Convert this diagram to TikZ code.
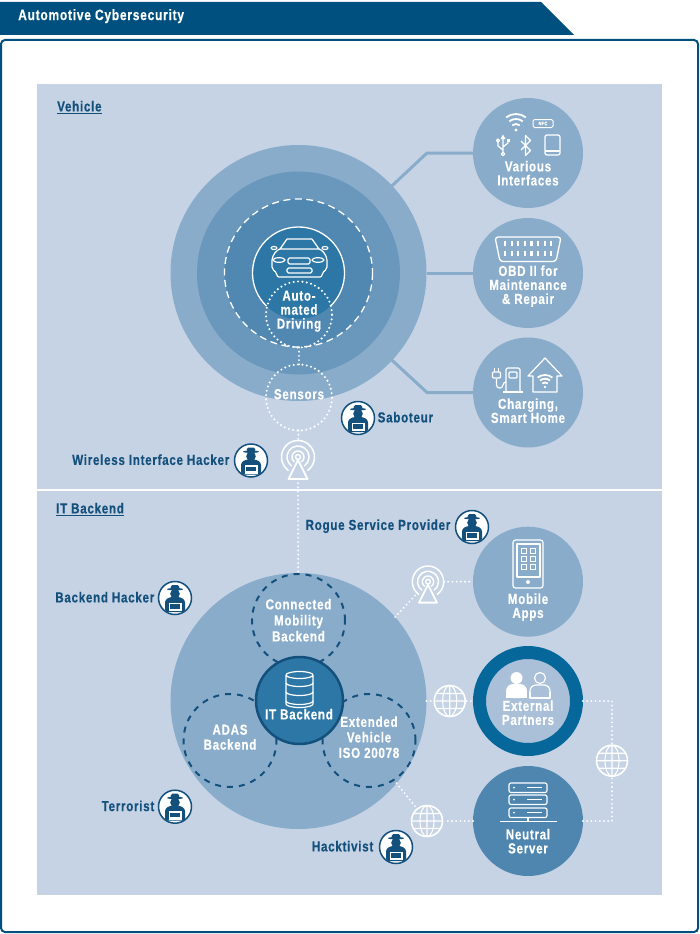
\documentclass[tikz,border=0pt]{standalone}
\usepackage{fontspec}
\usetikzlibrary{positioning}
\setmainfont{Liberation Sans}[FakeStretch=0.8,LetterSpace=5,BoldFeatures={FakeBold=0.35}]
\definecolor{barblue}{HTML}{00507F}
\definecolor{panelblue}{HTML}{C5D3E5}
\definecolor{ringone}{HTML}{8AACCB}
\definecolor{ringtwo}{HTML}{6A97BC}
\definecolor{ringthree}{HTML}{5088B2}
\definecolor{corecolor}{HTML}{2C77A6}
\definecolor{hackblue}{HTML}{14507C}
\definecolor{partnerring}{HTML}{06689A}
\definecolor{partnerfill}{HTML}{A9C0D8}
\definecolor{serverfill}{HTML}{4F86B0}
\tikzset{
	disc/.style={circle,inner sep=0pt,outer sep=0pt,minimum size=#1},
	whitetext/.style={text=white,align=center,font=\fontsize{14.5}{14}\selectfont\bfseries,inner sep=0pt,yshift=.8pt},
	darktext/.style={text=hackblue,font=\fontsize{14.5}{14}\selectfont\bfseries,inner sep=0pt,yshift=.8pt},
	dotlink/.style={draw=white,line width=2.1pt,line cap=round,dash pattern=on 0pt off 4.2pt},
	dotring/.style={draw=white,line width=2.3pt,line cap=round,dash pattern=on 0pt off 4.4pt},
	dashring/.style={draw=hackblue,line width=2pt,dash pattern=on 6pt off 6pt},
	hackerbadge/.style={disc=33pt,fill=white,draw=hackblue,line width=1.5pt},
	iconline/.style={draw=white,line width=1.2pt,line join=round},
	hackerface/.pic={
		\fill[hackblue,rounded corners=1.5pt] (-4.5,-9) -- (-4,-13) -- (4,-13) -- (4.5,-9) -- cycle;
		\fill[hackblue] (0,-8.8) ellipse (8 and 1.2);
		\fill[hackblue] (0,-4.2) circle (4.8);
		\fill[hackblue,rounded corners=2.5pt] (-10,14) -- (-10,2) -- (-5,-1) -- (5,-1) -- (10,2) -- (10,14) -- cycle;
		\fill[white] (-6.5,4.5) rectangle (6.5,13);
		\fill[hackblue] (-5,6) rectangle (5,10.5);
	},
	globepic/.pic={
		\draw[white,line width=1.6pt] (0,0) circle (15.5);
		\draw[white,line width=1.1pt] (0,0) ellipse (7 and 15.5) (0,-15.5) -- (0,15.5) (-15.5,0) -- (15.5,0)
			(-13.5,-7.5) -- (13.5,-7.5) (-13.5,7.5) -- (13.5,7.5);
	},
	towerpic/.pic={
		\foreach \rr in {6,11,16.5}
			\draw[white,line width=1.5pt] (0,0) ++(125:\rr) arc[start angle=125,end angle=415,radius=\rr];
		\draw[white,line width=1.5pt] (0,0) circle (2.5);
		\draw[white,line width=1.8pt,line join=round] (0,3) -- (9.5,22) -- (-9.5,22) -- cycle;
	},
	wifipic/.pic={
		\fill[white] (0,0) circle (1.7);
		\foreach \rr in {6,11,16}
			\draw[white,line width=1.8pt] (0,0) ++(232:\rr) arc[start angle=232,end angle=308,radius=\rr];
	}
}
\begin{document}
\begin{tikzpicture}[x=1pt,y=-1pt]
	\useasboundingbox (0,0) rectangle (700,934);
	\fill[white] (0,0) rectangle (700,934);
	\fill[barblue] (0,2) -- (541,2) -- (574,35) -- (0,35) -- cycle;
	\draw[barblue,line width=2pt,rounded corners=4pt] (1,40) rectangle (698,932);
	\node[whitetext,anchor=west,font=\fontsize{15}{14}\selectfont\bfseries] (titletext) at (18,17) {Automotive Cybersecurity};
	\fill[panelblue] (37,84) rectangle (662,895);
	\draw[white,line width=1.2pt] (37,490) -- (662,490);
	\node[darktext,anchor=west] (vehicletext) at (57,108) {\underline{Vehicle}};
	\node[darktext,anchor=west] (backendtext) at (56,510) {\underline{IT Backend}};

	% vehicle side
	\node[disc=256pt,fill=ringone] (vehicle) at (298.5,273) {};
	\node[disc=203pt,fill=ringtwo] (domain) at (298.5,273) {};
	\node[disc=148pt,fill=ringthree] (dashdomain) at (298.5,273) {};
	\draw[white,line width=1.3pt,dash pattern=on 7pt off 4.5pt] (dashdomain) circle (74);
	\node[disc=92pt,fill=corecolor] (carcore) at (298.5,273) {};
	\draw[white,line width=1.3pt] (carcore) ++(134:46) arc[start angle=134,end angle=406,radius=46];
	\node[disc=66pt,dotring,fill=none] (driving) at (299,314.5) {};
	\node[disc=66pt,dotring] (sensors) at (299,397.5) {};
	\node[whitetext] (drivingtext) at (299,312) {Auto-\\mated\\Driving};
	\node[whitetext] (sensorstext) at (299,395) {Sensors};
	% car
	\draw[iconline] (280,249) -- (287,239) -- (312,239) -- (319,249) -- cycle;
	\draw[iconline,rounded corners=2pt] (280,249) -- (276,251) -- (272,258) -- (272,269) -- (277,273) -- (277,277) -- (322,277) -- (322,273) -- (327,269) -- (327,258) -- (323,251) -- (319,249);
	\draw[iconline] (274,248) ellipse (3 and 1.5) (325,248) ellipse (3 and 1.5);
	\draw[iconline] (279,260) ellipse (6 and 2.3) (318,260) ellipse (6 and 2.3);
	\draw[iconline,rounded corners=1.5pt] (288,258) rectangle (310,264) (287,268) rectangle (312,273);
	\draw[dotlink] (driving) -- (sensors);

	\node[disc=110pt,fill=ringone] (various) at (528,153) {};
	\node[disc=110pt,fill=ringone] (obd) at (528,273) {};
	\node[disc=110pt,fill=ringone] (charging) at (528,392.5) {};
	\coordinate (elbowa) at (427,153);
	\coordinate (elbowb) at (427,392.5);
	\draw[ringone,line width=3pt,line join=round] (vehicle.43) -- (elbowa) -- (various);
	\draw[ringone,line width=3pt] (vehicle) -- (obd);
	\draw[ringone,line width=3pt,line join=round] (vehicle.-43) -- (elbowb) -- (charging);
	\node[whitetext] (varioustext) at (528,174) {Various\\Interfaces};
	\node[whitetext] (obdtext) at (528,287) {OBD II for\\Maintenance\\\& Repair};
	\node[whitetext] (chargingtext) at (528,411.5) {Charging,\\Smart Home};
	% interface icons
	\pic at (516,130) {wifipic};
	\node[draw=white,line width=1pt,rounded corners=1.5pt,minimum width=20pt,minimum height=8pt,inner sep=0pt,text=white,font=\fontsize{5}{5}\selectfont\bfseries] (nfcbox) at (543,123.5) {NFC};
	\draw[iconline] (503,138) -- (503,153) (503,150) -- (498,146) -- (498,142) (503,147) -- (508,143) -- (508,141);
	\fill[white] (503,134.5) -- (505.5,139) -- (500.5,139) -- cycle;
	\draw[iconline] (503,154) circle (1.8) (498,140.5) circle (1.5);
	\fill[white] (506.5,138.5) rectangle (509.5,141.5);
	\draw[iconline] (521,141) -- (530.5,150.5) -- (525.5,155.5) -- (525.5,135.5) -- (530.5,140.5) -- (521,150);
	\draw[iconline,rounded corners=2pt] (545,135) rectangle (560,155);
	\draw[iconline] (545,151) -- (560,151);
	% obd plug
	\draw[iconline,line width=1.3pt,rounded corners=3pt] (495,237) -- (561,237) -- (556,261.5) -- (500,261.5) -- cycle;
	\foreach \pinx in {0,...,7}{
		\draw[white,line width=2.2pt] (505+\pinx*6.6,240.5) -- (505+\pinx*6.6,246);
		\draw[white,line width=2.2pt] (505+\pinx*6.6,250.5) -- (505+\pinx*6.6,256);
	}
	% charging and home
	\draw[iconline,rounded corners=1.5pt] (506,392) -- (506,368) -- (520,368) -- (520,392);
	\draw[iconline] (503,392) -- (523,392);
	\draw[iconline,rounded corners=1pt] (509,372) rectangle (517,378);
	\draw[iconline,rounded corners=3pt] (496.5,379) -- (496.5,388) -- (503,388) -- (503,382) -- (506,382);
	\draw[iconline,rounded corners=1pt] (492.5,372) -- (492.5,378) -- (500.5,378) -- (500.5,372) -- cycle;
	\draw[iconline] (494.5,372) -- (494.5,368) (498.5,372) -- (498.5,368);
	\draw[iconline] (533,392) -- (533,376) -- (528,376) -- (545,358) -- (562,376) -- (557,376) -- (557,392) -- cycle;
	\pic[scale=.75] at (545,387) {wifipic};

	% wireless path
	\node[hackerbadge] (saboteur) at (358,418) {};
	\pic at (saboteur) {hackerface};
	\node[darktext,right=3pt of saboteur] (saboteurtext) {Saboteur};
	\node[hackerbadge] (wirelesshacker) at (251,460.5) {};
	\pic at (wirelesshacker) {hackerface};
	\node[darktext,left=5pt of wirelesshacker] (wirelesstext) {Wireless Interface Hacker};
	\node[minimum width=34pt,minimum height=37pt,inner sep=0pt,outer sep=0pt] (towera) at (298,460.5) {};
	\pic at (298,457) {towerpic};
	\draw[dotlink] (sensors) -- (towera);

	% backend side
	\node[disc=256pt,fill=ringone] (itbig) at (298.5,701) {};
	\node[disc=93pt,dashring] (connected) at (298.5,620.5) {};
	\node[disc=93pt,dashring] (adas) at (230,740.5) {};
	\node[disc=93pt,dashring] (extended) at (369,740.5) {};
	\node[disc=87pt,fill=corecolor,draw=hackblue,line width=2.5pt] (itcore) at (299.5,700.5) {};
	\node[whitetext,font=\fontsize{14.5}{16}\selectfont\bfseries] (connectedtext) at (298.5,621) {Connected\\Mobility\\Backend};
	\node[whitetext,font=\fontsize{14.5}{15}\selectfont\bfseries] (adastext) at (230,738) {ADAS\\Backend};
	\node[whitetext,font=\fontsize{14.5}{15.5}\selectfont\bfseries] (extendedtext) at (369,738) {Extended\\Vehicle\\ISO 20078};
	\node[whitetext] (itcoretext) at (299,715) {IT Backend};
	% database
	\foreach \bandy in {683,692,701}
		\draw[iconline] (286,\bandy) arc[start angle=180,end angle=0,x radius=13.5,y radius=3.5];
	\draw[iconline] (299.5,675) ellipse (13.5 and 3.5) (286,675) -- (286,704) arc[start angle=180,end angle=0,x radius=13.5,y radius=3.5] -- (313,675);
	\draw[dotlink] (towera.south) -- (itbig);

	\node[disc=110pt,fill=ringone] (mobile) at (528,581.7) {};
	\node[disc=97pt,fill=partnerfill,draw=partnerring,line width=13pt,outer sep=6.5pt] (external) at (528,701) {};
	\node[disc=110pt,fill=serverfill] (neutral) at (528,821) {};
	\node[whitetext] (mobiletext) at (528,608) {Mobile\\Apps};
	\node[whitetext] (externaltext) at (528,713.5) {External\\Partners};
	\node[whitetext] (neutraltext) at (528,842) {Neutral\\Server};
	% phone
	\draw[iconline,rounded corners=2.5pt] (513,540) rectangle (543,588);
	\draw[iconline] (517,544) rectangle (540,577);
	\fill[white] (528,582) circle (2);
	\foreach \appx in {524,533}
		\foreach \appy in {551,559,567}
			\draw[white,line width=.8pt] (\appx-2.5,\appy-2.5) rectangle (\appx+2.5,\appy+2.5);
	% persons
	\fill[white] (516.5,678) circle (6);
	\fill[white,rounded corners=7pt] (506,698) -- (506,684) -- (527,684) -- (527,698) -- cycle;
	\fill[white] (506,692) rectangle (527,698);
	\draw[iconline] (540,678) circle (5.5);
	\draw[iconline,rounded corners=6pt] (530,698) -- (530,685) -- (550,685) -- (550,698);
	\draw[iconline] (530,692) -- (530,698) -- (550,698) -- (550,692);
	% server
	\foreach \racky in {783,795,808}{
		\draw[iconline,rounded corners=2pt] (509,\racky) rectangle (547,\racky+9.5);
		\fill[white] (514,\racky+4.7) circle (1);
		\draw[iconline] (527,\racky+4.7) -- (542,\racky+4.7);
	}
	\draw[iconline] (528,817.5) -- (528,821) (500,821.5) -- (557,821.5);

	\node[disc=32pt] (towerb) at (428,581.7) {};
	\pic[scale=.95] at (428,581.7) {towerpic};
	\node[disc=34pt] (globea) at (449.7,701) {};
	\pic at (globea) {globepic};
	\node[disc=34pt] (globeb) at (612,760.7) {};
	\pic at (globeb) {globepic};
	\node[disc=34pt] (globec) at (427,821) {};
	\pic at (globec) {globepic};
	\draw[dotlink] (itbig.41) -- (towerb);
	\draw[dotlink] (towerb) -- (mobile);
	\draw[dotlink] (itbig) -- (globea);
	\draw[dotlink] (globea) -- (external);
	\draw[dotlink] (external.east) -| (globeb);
	\draw[dotlink] (neutral.east) -| (globeb);
	\draw[dotlink] (neutral) -- (globec);
	\draw[dotlink] (itbig.-40) -- (globec);

	% hackers
	\node[hackerbadge] (rogue) at (472,527) {};
	\pic at (rogue) {hackerface};
	\node[darktext,left=5pt of rogue] (roguetext) {Rogue Service Provider};
	\node[hackerbadge] (backendhacker) at (175,598) {};
	\pic at (backendhacker) {hackerface};
	\node[darktext,left=4pt of backendhacker] (backendhackertext) {Backend Hacker};
	\node[hackerbadge] (terrorist) at (175,806.7) {};
	\pic at (terrorist) {hackerface};
	\node[darktext,left=4pt of terrorist] (terroristtext) {Terrorist};
	\node[hackerbadge] (hacktivist) at (396,847) {};
	\pic at (hacktivist) {hackerface};
	\node[darktext,left=6pt of hacktivist] (hacktivisttext) {Hacktivist};
\end{tikzpicture}
\end{document}
